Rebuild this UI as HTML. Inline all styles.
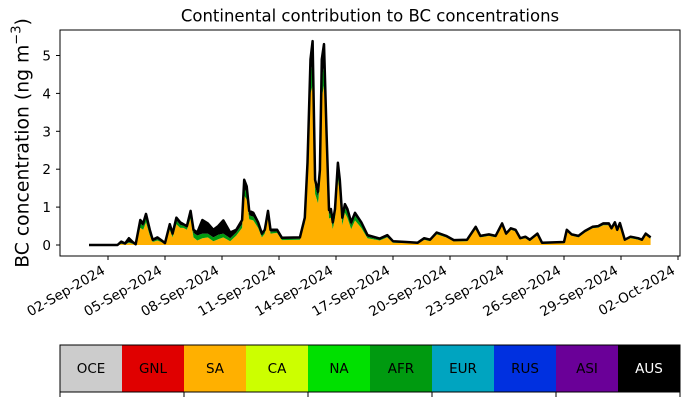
<!DOCTYPE html>
<html><head><meta charset="utf-8"><style>
body{margin:0;background:#fff;width:690px;height:402px;overflow:hidden}
svg{font-family:"DejaVu Sans","Liberation Sans",sans-serif}
</style></head><body>
<svg id="c" width="690" height="402" xmlns="http://www.w3.org/2000/svg">
<text x="370" y="21.5" font-size="16.5" text-anchor="middle">Continental contribution to BC concentrations</text>
<text transform="translate(28.5,143) rotate(-90)" font-size="18.8" text-anchor="middle">BC concentration (ng m<tspan dy="-8" font-size="13">−3</tspan><tspan dy="8">)</tspan></text>
<g id="plot"></g>
<g id="cbar"></g>
</svg>
<script>
const days=[0,1.5,1.7,1.9,2.1,2.3,2.46,2.7,2.85,3.0,3.2,3.35,3.6,3.8,4.0,4.25,4.4,4.6,4.8,4.97,5.15,5.35,5.5,5.7,5.97,6.25,6.55,6.8,7.07,7.43,7.75,8.06,8.17,8.3,8.43,8.65,8.9,9.1,9.25,9.42,9.55,9.9,10.15,11.1,11.36,11.5,11.66,11.77,11.9,12.05,12.15,12.25,12.37,12.5,12.63,12.73,12.83,12.95,13.1,13.2,13.33,13.47,13.6,13.8,14.0,14.33,14.66,15.3,15.7,16.0,16.7,17.3,17.64,17.95,18.3,18.8,19.2,19.9,20.35,20.6,21.05,21.4,21.74,21.95,22.2,22.45,22.7,22.97,23.2,23.6,23.84,25.0,25.15,25.4,25.76,26.1,26.5,26.8,27.07,27.36,27.5,27.68,27.8,27.94,28.2,28.5,28.9,29.1,29.3,29.56];
const total=[0,0,0.09,0.04,0.18,0.08,0.02,0.66,0.57,0.82,0.4,0.14,0.2,0.13,0.05,0.55,0.3,0.72,0.6,0.55,0.5,0.9,0.4,0.33,0.66,0.57,0.4,0.5,0.65,0.33,0.4,0.66,1.72,1.55,0.9,0.85,0.6,0.3,0.4,0.9,0.4,0.4,0.19,0.2,0.72,2.17,4.9,5.38,1.72,1.41,1.98,4.9,5.3,3.0,0.92,0.95,0.6,0.95,2.17,1.72,0.72,1.08,0.95,0.6,0.85,0.6,0.26,0.17,0.26,0.1,0.08,0.06,0.18,0.14,0.33,0.24,0.13,0.14,0.48,0.24,0.28,0.24,0.57,0.3,0.44,0.4,0.18,0.22,0.14,0.3,0.06,0.08,0.4,0.28,0.24,0.37,0.48,0.5,0.57,0.57,0.44,0.6,0.4,0.58,0.14,0.22,0.18,0.14,0.3,0.2];
const sa=[0,0,0.03,0.01,0.06,0.03,0.01,0.45,0.4,0.6,0.25,0.08,0.12,0.08,0.03,0.4,0.2,0.55,0.45,0.45,0.4,0.7,0.2,0.12,0.18,0.2,0.1,0.15,0.2,0.1,0.25,0.45,1.3,1.2,0.68,0.65,0.45,0.2,0.3,0.72,0.3,0.32,0.13,0.14,0.58,1.8,4.0,4.2,1.35,1.1,1.6,3.9,4.2,2.4,0.7,0.72,0.42,0.72,1.75,1.35,0.52,0.85,0.72,0.42,0.65,0.45,0.18,0.12,0.2,0.06,0.05,0.04,0.14,0.1,0.28,0.2,0.1,0.1,0.42,0.2,0.24,0.2,0.52,0.26,0.4,0.36,0.15,0.18,0.1,0.26,0.03,0.05,0.36,0.25,0.2,0.33,0.44,0.46,0.52,0.52,0.4,0.55,0.36,0.53,0.11,0.18,0.14,0.11,0.26,0.17];
const afr=[0,0,0.01,0,0.02,0.01,0,0.12,0.1,0.12,0.08,0.02,0.03,0.02,0.01,0.08,0.05,0.1,0.08,0.06,0.06,0.1,0.12,0.13,0.12,0.1,0.1,0.12,0.1,0.08,0.08,0.1,0.2,0.18,0.1,0.1,0.08,0.05,0.05,0.1,0.05,0.04,0.03,0.03,0.08,0.2,0.5,0.6,0.2,0.18,0.2,0.5,0.55,0.35,0.12,0.12,0.1,0.13,0.2,0.2,0.12,0.15,0.13,0.1,0.12,0.1,0.04,0.02,0.02,0.01,0.01,0.01,0.01,0.01,0.02,0.01,0.01,0.01,0.02,0.01,0.01,0.01,0.02,0.01,0.01,0.01,0.01,0.01,0.01,0.01,0.01,0.01,0.01,0.01,0.01,0.01,0.01,0.01,0.01,0.01,0.01,0.01,0.01,0.01,0.01,0.01,0.01,0.01,0.01,0.01];
const yTicks=[0,1,2,3,4,5];
const xTickLabels=["02-Sep-2024","05-Sep-2024","08-Sep-2024","11-Sep-2024","14-Sep-2024","17-Sep-2024","20-Sep-2024","23-Sep-2024","26-Sep-2024","29-Sep-2024","02-Oct-2024"];
const xTickDays=[1,4,7,10,13,16,19,22,25,28,31];
const regions=["OCE","GNL","SA","CA","NA","AFR","EUR","RUS","ASI","AUS"];
const regionColors=["#cccccc","#e00000","#ffb000","#ccff00","#00e000","#009a10","#00a4c0","#0030e0","#6a0098","#000000"];

const NS="http://www.w3.org/2000/svg";
const L=60,R=680,T=30,B=256;
const x=d=>89+d*19.0;
const y=v=>245-v*37.9;
const plot=document.getElementById('plot');
function mk(tag,attrs,parent){const e=document.createElementNS(NS,tag);for(const k in attrs)e.setAttribute(k,attrs[k]);(parent||plot).appendChild(e);return e;}
function area(lo,hi,color,name){
  let d='M'+days.map((t,i)=>x(t).toFixed(1)+','+y(hi[i]).toFixed(1)).join('L');
  for(let i=days.length-1;i>=0;i--)d+='L'+x(days[i]).toFixed(1)+','+y(lo[i]).toFixed(1);
  const p=mk('path',{d:d+'Z',fill:color,stroke:'none'});
  
  
}
const zero=days.map(()=>0);
const saTop=sa.slice();
const afrTop=sa.map((v,i)=>v+afr[i]);
area(zero,saTop,'#ffb000','area-sa');
area(saTop,afrTop,'#009a10','area-afr');
area(afrTop,total,'#000000','area-aus');
const line=mk('polyline',{points:days.map((t,i)=>x(t).toFixed(1)+','+y(total[i]).toFixed(1)).join(' '),fill:'none',stroke:'#000','stroke-width':2.5,'stroke-linejoin':'round'});


const frame=mk('rect',{x:L,y:T,width:R-L,height:B-T,fill:'none',stroke:'#000','stroke-width':1});


yTicks.forEach(v=>{
  const tk=mk('line',{x1:L-4,x2:L,y1:y(v),y2:y(v),stroke:'#000'});
  
  
  const tx=mk('text',{x:L-9,y:y(v)+5,'font-size':13.5,'text-anchor':'end'});
  tx.textContent=v;
  
  
});
xTickDays.forEach((d,i)=>{
  const tk=mk('line',{x1:x(d),x2:x(d),y1:B,y2:B+4,stroke:'#000'});
  
  
  const tx=mk('text',{transform:`translate(${x(d)-2},${B+17}) rotate(-30)`,'font-size':13.6,'text-anchor':'end'});
  tx.textContent=xTickLabels[i];
  
  
});
const cb=document.getElementById('cbar');
const cw=(R-L)/regions.length;
regions.forEach((r,i)=>{
  const rc=mk('rect',{x:L+i*cw,y:345,width:cw+0.5,height:47,fill:regionColors[i]},cb);
  
  
  const t=mk('text',{x:L+i*cw+cw/2,y:373,'font-size':13.5,'text-anchor':'middle',fill:r==='AUS'?'#fff':'#000'},cb);
  t.textContent=r;
  
  
});
const cf=mk('rect',{x:L,y:345,width:R-L,height:47,fill:'none',stroke:'#000'},cb);


for(let i=0;i<=5;i++){
  const t=mk('line',{x1:L+i*cw*2,x2:L+i*cw*2,y1:392,y2:397,stroke:'#000'},cb);
  
  
}
</script>
</body></html>
